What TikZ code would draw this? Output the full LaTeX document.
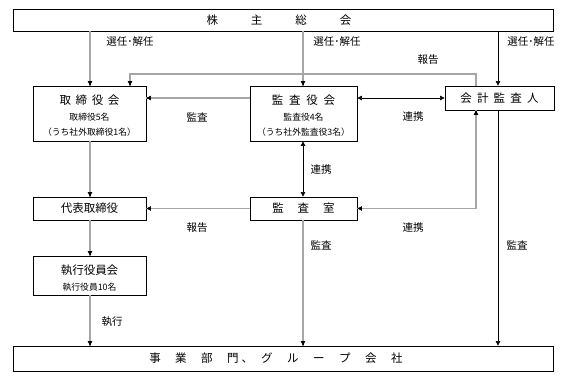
\documentclass[tikz,border=0pt]{standalone}
\usepackage{fontspec}
\setmainfont{Noto Sans CJK JP}
\usetikzlibrary{arrows.meta}
\begin{document}
\begin{tikzpicture}[x=1pt,y=-1pt,
  box/.style={draw=black,line width=0.8pt,rectangle,inner sep=0pt},
  big/.style={font=\fontsize{11.5}{13}\selectfont},
  small/.style={font=\fontsize{8.8}{10}\selectfont},
  lab/.style={font=\fontsize{10.5}{12}\selectfont},
  arr/.style={line width=0.6pt,-{Triangle[length=4.5pt,width=4.5pt]}},
  darr/.style={line width=0.6pt,{Triangle[length=4.5pt,width=4.5pt]}-{Triangle[length=4.5pt,width=4.5pt]}},
  gline/.style={draw=gray!70,line width=1.2pt}
]
\useasboundingbox[fill=white] (0,0) rectangle (566,380);
% boxes
\node[box,minimum width=540pt,minimum height=22pt] (top) at (283,20) {};
\node[big] (toplab) at (279,20) {株\hspace{33pt}主\hspace{33pt}総\hspace{33pt}会};
\node[box,minimum width=540pt,minimum height=25pt] (bot) at (283,358.5) {};
\node[big] (botlab) at (276,358.5) {事\hspace{14.5pt}業\hspace{14.5pt}部\hspace{14.5pt}門\hspace{3pt}、\hspace{8pt}グ\hspace{14.5pt}ル\hspace{14.5pt}ー\hspace{14.5pt}プ\hspace{14.5pt}会\hspace{14.5pt}社};

\node[box,minimum width=113pt,minimum height=55pt] (trb) at (89.5,113.5) {};
\node[big] (trb1) at (89.5,100) {取\hspace{0.4em}締\hspace{0.4em}役\hspace{0.4em}会};
\node[small] (trb2) at (89.5,117) {取締役5名};
\node[small] (trb3) at (89.5,132) {（うち社外取締役1名）};

\node[box,minimum width=107pt,minimum height=55pt] (kns) at (303.5,113.5) {};
\node[big] (kns1) at (303.5,100) {監\hspace{0.5em}査\hspace{0.5em}役\hspace{0.5em}会};
\node[small] (kns2) at (303.5,117) {監査役4名};
\node[small] (kns3) at (303.5,132) {（うち社外監査役3名）};

\node[box,minimum width=109pt,minimum height=24pt] (kaik) at (499.5,98) {};
\node[big] (kaik1) at (499.5,98) {会\hspace{0.45em}計\hspace{0.45em}監\hspace{0.45em}査\hspace{0.45em}人};

\node[box,minimum width=113pt,minimum height=23pt] (daih) at (89.5,208.5) {};
\node[big] (daih1) at (89.5,208.5) {代表取締役};

\node[box,minimum width=107pt,minimum height=23pt] (ksh) at (303.5,208.5) {};
\node[big] (ksh1) at (303.5,208.5) {監\hspace{1.2em}査\hspace{1.2em}室};

\node[box,minimum width=113pt,minimum height=39pt] (shik) at (89.5,275.5) {};
\node[big] (shik1) at (89.5,270) {執行役員会};
\node[small] (shik2) at (89.5,287) {執行役員10名};

% coordinates
\coordinate (r1) at (476,74);
\coordinate (r2) at (130,74);
\coordinate (ax) at (90,0);
\coordinate (bx) at (303,0);
\coordinate (cx) at (498,0);

% connectors
\draw[gline] (top.south -| ax) -- (trb.north -| ax);
\draw[arr] (trb.north -| ax) ++(0,-1) -- (trb.north -| ax);
\draw[gline] (top.south -| bx) -- (kns.north -| bx);
\draw[arr] (kns.north -| bx) ++(0,-1) -- (kns.north -| bx);
\draw[arr] (top.south -| cx) -- (kaik.north -| cx);

\draw[gline] (r1 |- kaik.north) -- (r1) -- (r2) -- (r2 |- trb.north);
\draw[arr] (r2 |- trb.north) ++(0,-1) -- (r2 |- trb.north);

\draw[gline] (kns.west |- 0,98) -- (trb.east |- 0,98);
\draw[arr] (trb.east |- 0,98) ++(1,0) -- (trb.east |- 0,98);
\draw[darr] (kns.east |- kaik.west) -- (kaik.west);

\draw[gline] (trb.south -| ax) -- (daih.north -| ax);
\draw[arr] (daih.north -| ax) ++(0,-1) -- (daih.north -| ax);
\draw[darr] (kns.south -| bx) -- (ksh.north -| bx);

\draw[gline] (ksh.west) -- (daih.east);
\draw[arr] (daih.east) ++(1,0) -- (daih.east);

\draw[gline] (ksh.east) -- (r1 |- ksh.east) -- (r1 |- kaik.south);
\draw[arr] (ksh.east) ++(1,0) -- (ksh.east);
\draw[arr] (r1 |- kaik.south) ++(0,1) -- (r1 |- kaik.south);

\draw[gline] (daih.south -| ax) -- (shik.north -| ax);
\draw[arr] (shik.north -| ax) ++(0,-1) -- (shik.north -| ax);
\draw[gline] (shik.south -| ax) -- (bot.north -| ax);
\draw[arr] (bot.north -| ax) ++(0,-1) -- (bot.north -| ax);
\draw[gline] (ksh.south -| bx) -- (bot.north -| bx);
\draw[arr] (bot.north -| bx) ++(0,-1) -- (bot.north -| bx);
\draw[arr] (kaik.south -| cx) -- (bot.north -| cx);

% labels
\node[lab] (l1) at (130,42) {選任･解任};
\node[lab] (l2) at (337,42) {選任･解任};
\node[lab] (l3) at (531,42) {選任･解任};
\node[lab] (l4) at (428,60) {報告};
\node[lab] (l5) at (197,117) {監査};
\node[lab] (l6) at (413,117) {連携};
\node[lab] (l7) at (321,170) {連携};
\node[lab] (l8) at (197,228) {報告};
\node[lab] (l9) at (413,228) {連携};
\node[lab] (l10) at (321,245) {監査};
\node[lab] (l11) at (517,245) {監査};
\node[lab] (l12) at (112,322) {執行};
\end{tikzpicture}
\end{document}
